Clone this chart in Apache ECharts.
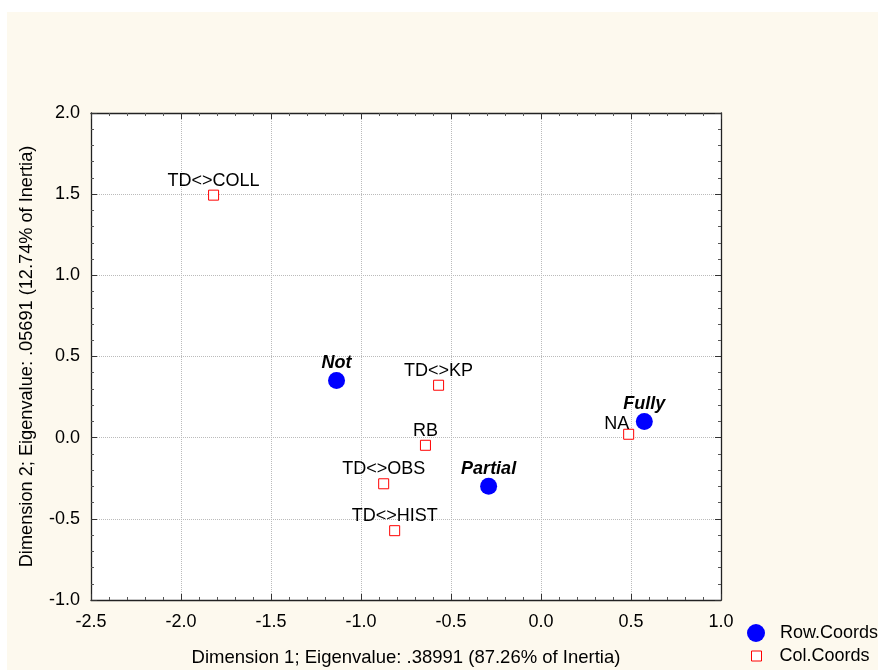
<!DOCTYPE html>
<html>
<head>
<meta charset="utf-8">
<script src="https://cdn.jsdelivr.net/npm/echarts@6/dist/echarts.min.js"></script>
<style>
  body { margin: 0; background: #fff; }
  #chart {
    position: absolute; left: 0; top: 0; width: 878px; height: 670px;
    background:
      linear-gradient(#fff, #fff) 0 0 / 100% 12px no-repeat,
      linear-gradient(#fff, #fff) 0 0 / 7px 100% no-repeat,
      #fdf9ee;
  }
</style>
</head>
<body>
<div id="chart"></div>
<script>
// row points (blue circles)
var rowNames = ["Not", "Partial", "Fully"];
var rowX = [-1.136, -0.291, 0.574];
var rowY = [0.352, -0.299, 0.099];

// column points (red squares)
var colNames = ["TD<>COLL", "TD<>KP", "RB", "TD<>OBS", "TD<>HIST", "NA"];
var colX = [-1.819, -0.569, -0.642, -0.874, -0.813, 0.487];
var colY = [1.494, 0.323, -0.047, -0.284, -0.573, 0.021];

var xTitle = "Dimension 1; Eigenvalue: .38991 (87.26% of Inertia)";
var yTitle = "Dimension 2; Eigenvalue: .05691 (12.74% of Inertia)";

var font = "'Liberation Sans', Arial, Helvetica, sans-serif";

var rowData = rowNames.map(function (n, i) {
  return { name: n, value: [rowX[i], rowY[i]] };
});
var colData = colNames.map(function (n, i) {
  var item = { name: n, value: [colX[i], colY[i]] };
  if (n === "NA") {
    item.label = { offset: [-12, 4] };
  }
  return item;
});

function makeAxis(pos, min, max, showLabel, extra) {
  var a = {
    type: "value",
    position: pos,
    min: min,
    max: max,
    interval: 0.5,
    axisLine: { show: true, onZero: false, lineStyle: { color: "#222", width: 1.3 } },
    axisTick: { show: true, inside: true, length: 6, lineStyle: { color: "#333" } },
    minorTick: { show: true, splitNumber: 5, length: 3, lineStyle: { color: "#555" } },
    axisLabel: {
      show: showLabel,
      color: "#000",
      fontSize: 18,
      fontFamily: font,
      formatter: function (v) { return v.toFixed(1); }
    },
    splitLine: {
      show: showLabel,
      lineStyle: { color: "#bbb", type: "dotted", width: 1 }
    },
    minorSplitLine: { show: false }
  };
  for (var k in extra) a[k] = extra[k];
  return a;
}

var chart = echarts.init(document.getElementById("chart"));
chart.setOption({
  backgroundColor: "transparent",
  animation: false,
  grid: {
    left: 91,
    top: 113,
    right: 157,
    bottom: 70,
    containLabel: false,
    outerBoundsMode: "none",
    show: true,
    backgroundColor: "#fff",
    borderWidth: 0
  },
  legend: [
    {
      data: ["Row.Coords"],
      left: 742,
      top: 619,
      itemWidth: 18,
      itemHeight: 18,
      textStyle: { color: "#000", fontSize: 18, fontFamily: font, padding: [0, 0, 0, 10] }
    },
    {
      data: ["Col.Coords"],
      left: 746,
      top: 642,
      itemWidth: 10,
      itemHeight: 10,
      itemStyle: { borderWidth: 1 },
      textStyle: { color: "#000", fontSize: 18, fontFamily: font, padding: [0, 0, 0, 13] }
    }
  ],
  xAxis: [
    makeAxis("bottom", -2.5, 1.0, true, {
      name: xTitle,
      nameLocation: "middle",
      nameGap: 48,
      nameTextStyle: { color: "#000", fontSize: 18.5, fontFamily: font },
      axisLabel: {
        color: "#000", fontSize: 18, fontFamily: font, margin: 13,
        formatter: function (v) { return v.toFixed(1); }
      }
    }),
    makeAxis("top", -2.5, 1.0, false, {})
  ],
  yAxis: [
    makeAxis("left", -1.0, 2.0, true, {
      name: yTitle,
      nameLocation: "middle",
      nameGap: 55,
      nameTextStyle: { color: "#000", fontSize: 18.2, fontFamily: font },
      axisLabel: {
        color: "#000", fontSize: 18, fontFamily: font, margin: 11,
        formatter: function (v) { return v.toFixed(1); }
      }
    }),
    makeAxis("right", -1.0, 2.0, false, {})
  ],
  series: [
    {
      name: "Row.Coords",
      type: "scatter",
      symbol: "circle",
      symbolSize: 17,
      data: rowData,
      itemStyle: { color: "#0000ff", opacity: 1 },
      label: {
        show: true,
        position: "top",
        distance: 0,
        formatter: "{b}",
        color: "#000",
        fontSize: 18,
        fontWeight: "bold",
        fontStyle: "italic",
        fontFamily: font
      },
      emphasis: { disabled: true },
      z: 3
    },
    {
      name: "Col.Coords",
      type: "scatter",
      symbol: "rect",
      symbolSize: 10,
      data: colData,
      itemStyle: { color: "#fff", borderColor: "#ff0000", borderWidth: 1, opacity: 1 },
      label: {
        show: true,
        position: "top",
        distance: 0,
        formatter: "{b}",
        color: "#000",
        fontSize: 18,
        fontFamily: font
      },
      emphasis: { disabled: true },
      z: 2
    }
  ]
});
</script>
</body>
</html>
